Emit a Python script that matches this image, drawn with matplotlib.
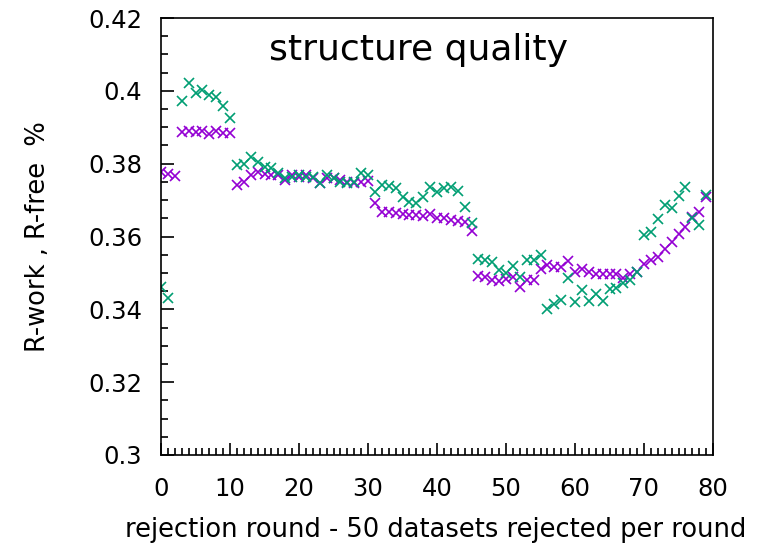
'''
Structure quality versus rejection round (R-work and R-free).
'''

import numpy as np
from matplotlib import pyplot as pl
from matplotlib.ticker import MultipleLocator, FuncFormatter

# Rejection rounds
rounds = list(range(0, 80))

# R-work (purple)
rwork = [
    0.3778, 0.3772, 0.3766, 0.3888, 0.3891, 0.3888, 0.3891, 0.3882,
    0.3890, 0.3885, 0.3883, 0.3741, 0.3749, 0.3769, 0.3778, 0.3772,
    0.3769, 0.3769, 0.3755, 0.3769, 0.3764, 0.3769, 0.3760, 0.3746,
    0.3760, 0.3760, 0.3755, 0.3751, 0.3748, 0.3751, 0.3753, 0.3693,
    0.3668, 0.3668, 0.3665, 0.3662, 0.3659, 0.3659, 0.3656, 0.3662,
    0.3650, 0.3650, 0.3645, 0.3643, 0.3641, 0.3616, 0.3492, 0.3488,
    0.3481, 0.3479, 0.3483, 0.3490, 0.3460, 0.3481, 0.3481, 0.3511,
    0.3522, 0.3516, 0.3515, 0.3534, 0.3503, 0.3512, 0.3503, 0.3496,
    0.3496, 0.3496, 0.3496, 0.3487, 0.3496, 0.3503, 0.3525, 0.3535,
    0.3543, 0.3565, 0.3586, 0.3607, 0.3625, 0.3654, 0.3668, 0.3708,
]

# R-free (green), no point for round 2
rfree = [
    0.3462, 0.3431, np.nan, 0.3973, 0.4021, 0.3993, 0.4002, 0.3989,
    0.3982, 0.3958, 0.3925, 0.3795, 0.3798, 0.3818, 0.3805, 0.3792,
    0.3787, 0.3773, 0.3760, 0.3764, 0.3769, 0.3764, 0.3764, 0.3746,
    0.3769, 0.3760, 0.3751, 0.3746, 0.3751, 0.3773, 0.3769, 0.3723,
    0.3741, 0.3739, 0.3732, 0.3709, 0.3696, 0.3691, 0.3709, 0.3735,
    0.3723, 0.3732, 0.3737, 0.3726, 0.3682, 0.3637, 0.3539, 0.3535,
    0.3531, 0.3508, 0.3499, 0.3519, 0.3488, 0.3535, 0.3535, 0.3549,
    0.3402, 0.3414, 0.3427, 0.3487, 0.3419, 0.3453, 0.3422, 0.3441,
    0.3422, 0.3456, 0.3459, 0.3471, 0.3481, 0.3503, 0.3604, 0.3613,
    0.3647, 0.3687, 0.3677, 0.3711, 0.3737, 0.3650, 0.3632, 0.3714,
]

fig = pl.figure(figsize=(7.64, 5.47), dpi=100)
ax = fig.add_axes([161/764, 1-455/547, 552/764, 437/547])

# Markers like gnuplot crosses
ax.plot(rounds, rwork, linestyle='none', marker='x', markersize=6.5,
        markeredgewidth=1.2, color='#9400d3')
ax.plot(rounds, rfree, linestyle='none', marker='x', markersize=6.5,
        markeredgewidth=1.2, color='#009e73')

ax.set_xlim(0, 80)
ax.set_ylim(0.3, 0.42)

ax.xaxis.set_major_locator(MultipleLocator(10))
ax.xaxis.set_minor_locator(MultipleLocator(1))
ax.yaxis.set_major_locator(MultipleLocator(0.02))
ax.yaxis.set_minor_locator(MultipleLocator(0.005))
ax.yaxis.set_major_formatter(FuncFormatter(lambda v, p: '%g' % round(v, 4)))

ax.tick_params(which='both', direction='in', top=False, right=False,
               width=1.2, labelsize=17.5)
ax.tick_params(which='major', length=9)
ax.tick_params(which='minor', length=5)
ax.tick_params(axis='x', pad=15.5)
ax.tick_params(axis='y', pad=13.5)
for s in ax.spines.values():
    s.set_linewidth(1.2)

ax.set_xlabel('rejection round - 50 datasets rejected per round',
              fontsize=18.5, va='top')
ax.xaxis.set_label_coords(0.497, -0.143)
ax.set_ylabel('R-work , R-free  %', fontsize=18.5)
ax.yaxis.set_label_coords(-0.20, 0.5)

ax.text(0.466, 0.927, 'structure quality', transform=ax.transAxes,
        ha='center', va='center', fontsize=26)

fig.savefig('out.png', dpi=100)
pl.close('all')
